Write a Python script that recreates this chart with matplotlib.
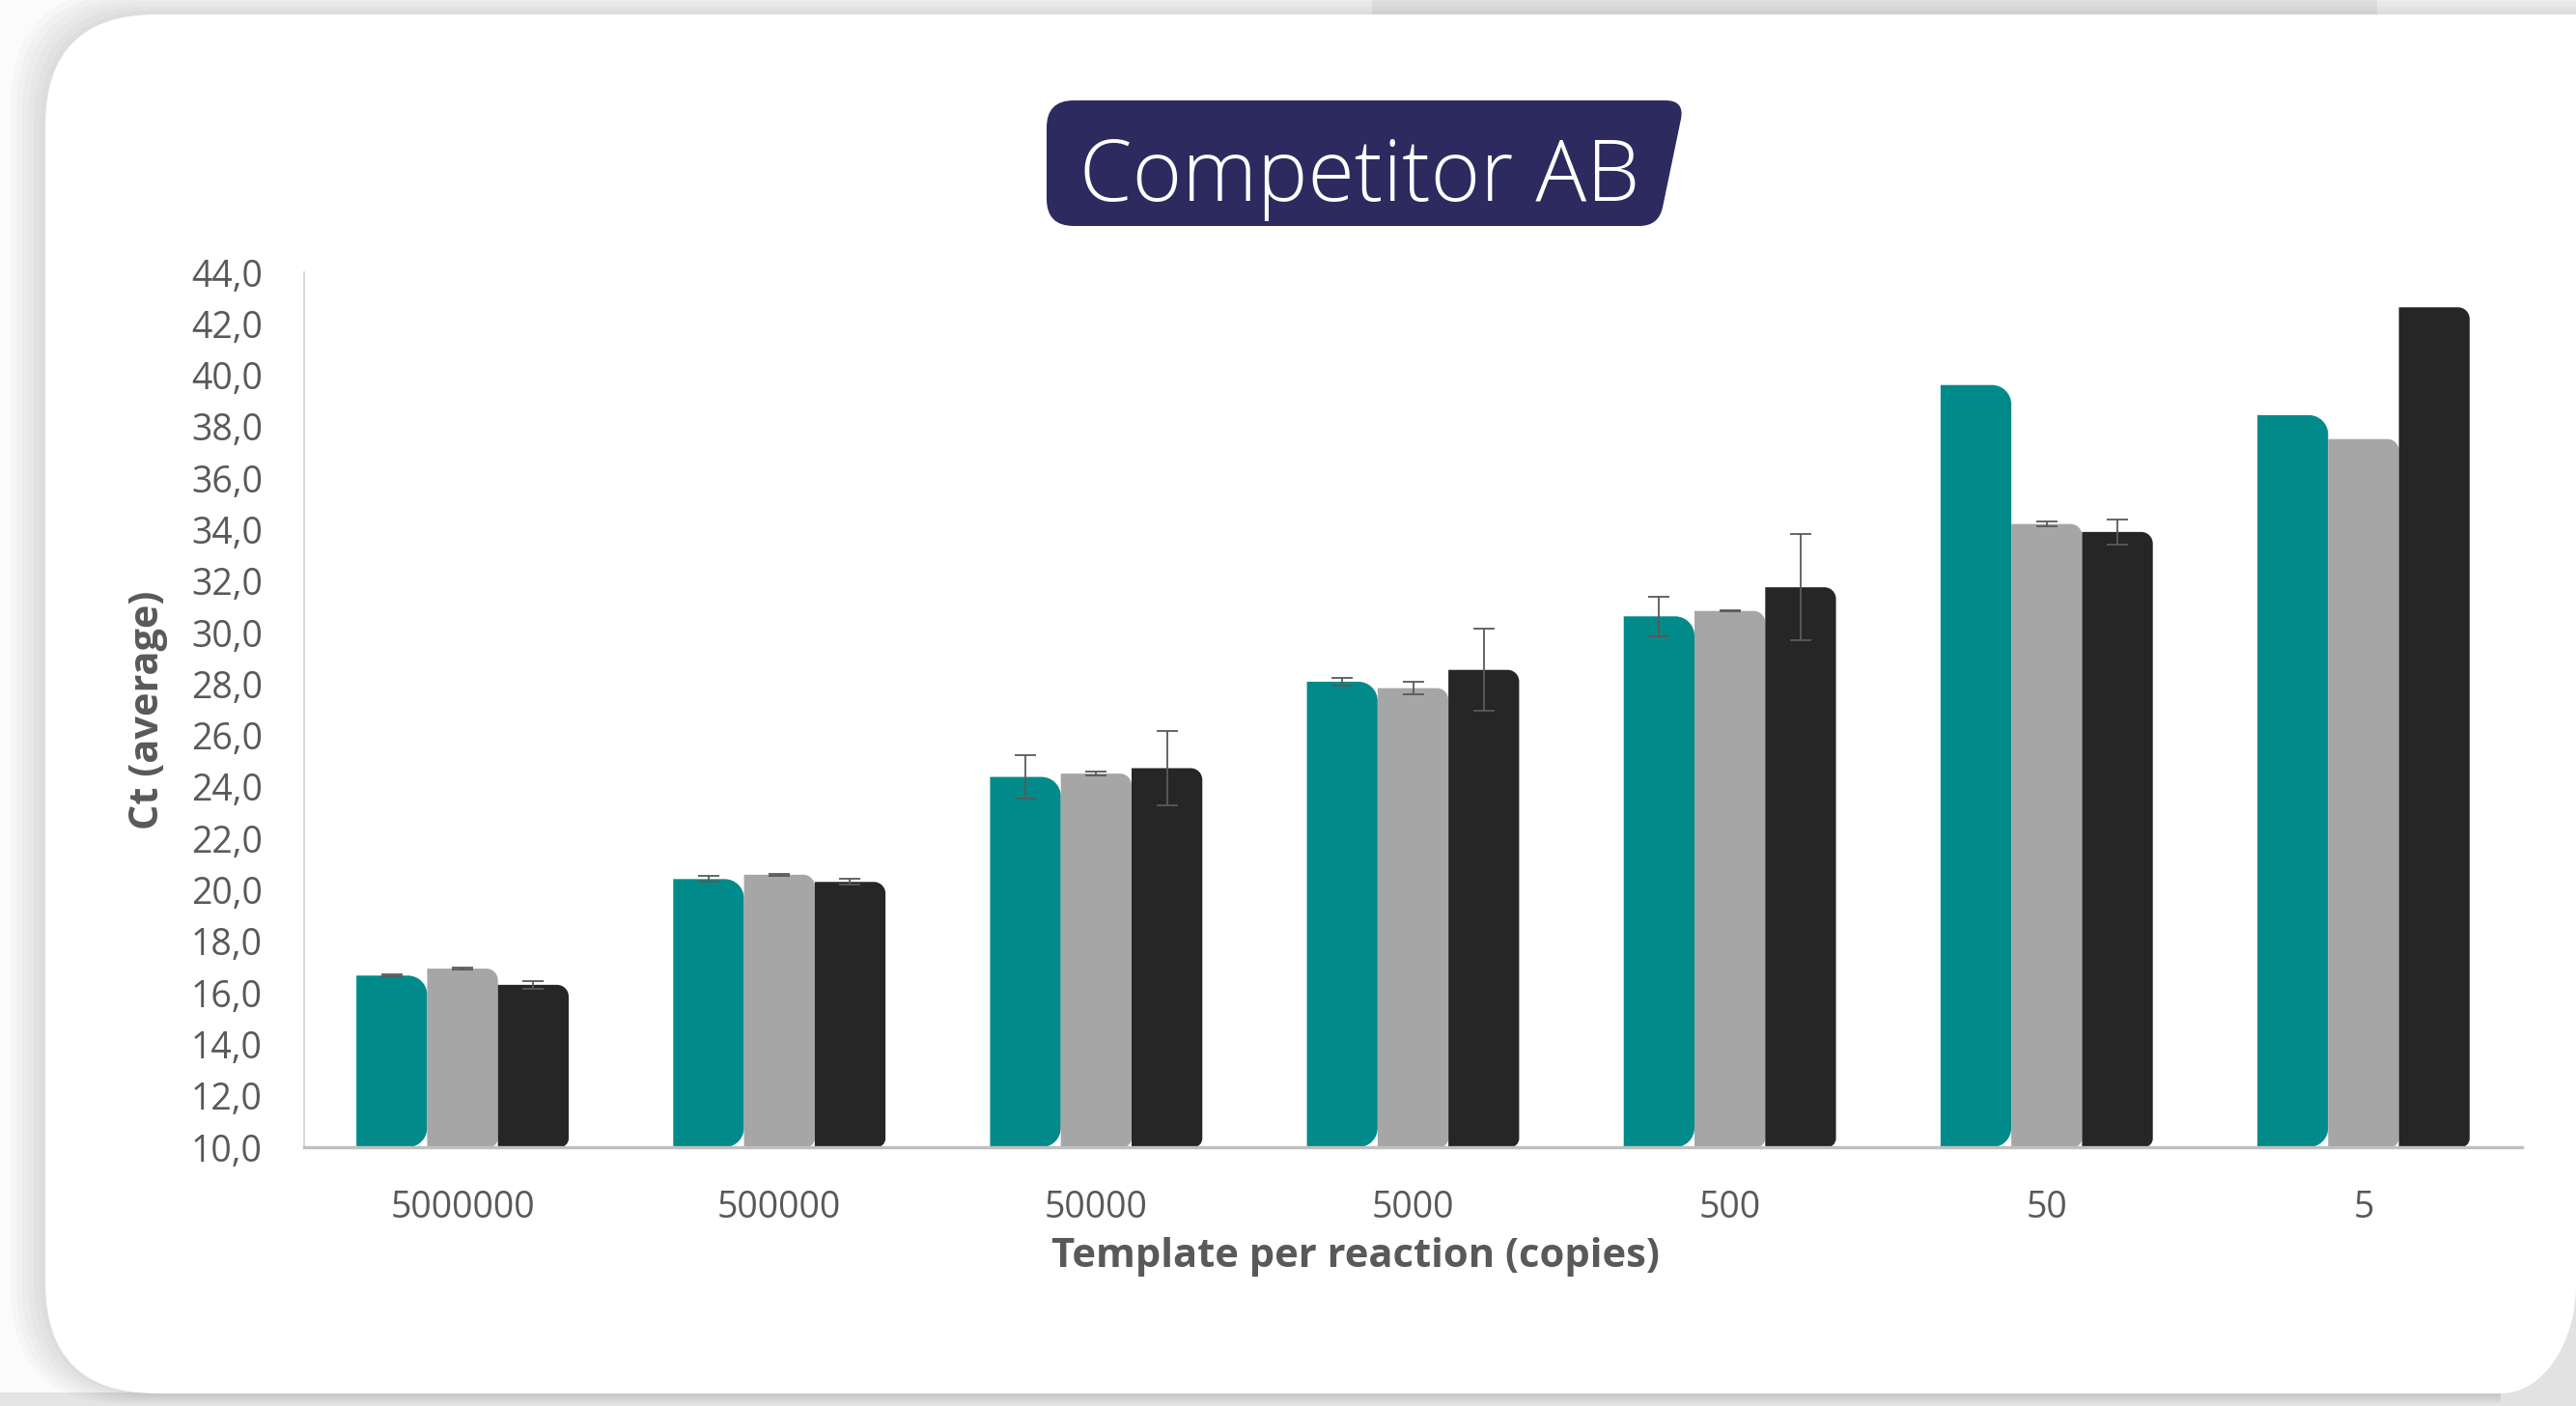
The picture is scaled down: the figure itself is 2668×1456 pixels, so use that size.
import numpy as np
import matplotlib
matplotlib.use("Agg")
import matplotlib.pyplot as plt
from matplotlib.path import Path
from matplotlib.patches import PathPatch, FancyBboxPatch, Rectangle
from matplotlib.transforms import IdentityTransform
from matplotlib import font_manager as fm

# ---------------- data ----------------
categories = ["5000000", "500000", "50000", "5000", "500", "50", "5"]
teal_vals = [16.67, 20.42, 24.39, 28.09, 30.63, 39.62, 38.45]
teal_err = [0.03, 0.11, 0.86, 0.14, 0.77, np.nan, np.nan]
grey_vals = [16.94, 20.59, 24.52, 27.84, 30.84, 34.22, 37.52]
grey_err = [0.04, 0.03, 0.07, 0.24, 0.03, 0.10, np.nan]
black_vals = [16.31, 20.31, 24.73, 28.55, 31.76, 33.91, 42.64]
black_err = [0.16, 0.12, 1.44, 1.60, 2.06, 0.48, np.nan]
y_ticks = [10, 12, 14, 16, 18, 20, 22, 24, 26, 28, 30, 32, 34, 36, 38, 40, 42, 44]
title_text = "Competitor AB"
x_label = "Template per reaction (copies)"
y_label = "Ct (average)"


def pick(names):
    for n in names:
        try:
            fm.findfont(fm.FontProperties(family=n), fallback_to_default=False)
            return n
        except Exception:
            pass
    return "DejaVu Sans"


TICK_FONT = pick(["Open Sans", "Noto Sans"])
LABEL_FONT = pick(["Liberation Sans Narrow", "Open Sans"])
TITLE_FONT = pick(["Open Sans", "Lato"])

W, H = 2668, 1456
fig = plt.figure(figsize=(W / 100, H / 100), dpi=100)
fig.patch.set_facecolor("#fbfbfb")
ident = IdentityTransform()
K = 0.5523


def py(y):  # top-origin px -> display px
    return H - y


# ---------------- background card ----------------
fig.add_artist(Rectangle((0, 0), W, 14, transform=ident, fc="#e4e4e4", ec="none", zorder=0))
fig.add_artist(Rectangle((1421, py(15)), 1041, 15, transform=ident, fc="#efefef", ec="none", zorder=0))
for i in range(6):
    g = 6 * (6 - i)
    fig.add_artist(FancyBboxPatch((47 - g, py(1443) - g * 0.3), W + 400, 1443 - 15 + g,
                                  boxstyle="round,pad=0,rounding_size=120", transform=ident,
                                  fc="black", ec="none", alpha=0.018, zorder=0.5))
fig.add_artist(FancyBboxPatch((47, py(1443)), W + 300, 1443 - 15,
                              boxstyle="round,pad=0,rounding_size=115", transform=ident,
                              fc="white", ec="none", zorder=1))
# bottom-right corner of the card
cx, cy, rx, ry = 2590, 1330, 78, 113
corner = Path([(W + 2, py(1457)), (cx, py(1457)), (cx, py(cy + ry)),
               (cx + K * rx, py(cy + ry)), (cx + rx, py(cy + K * ry)), (cx + rx, py(cy)),
               (W + 2, py(cy)), (W + 2, py(1457))],
              [Path.MOVETO, Path.LINETO, Path.LINETO, Path.CURVE4, Path.CURVE4, Path.CURVE4,
               Path.LINETO, Path.CLOSEPOLY])
fig.add_artist(PathPatch(corner, transform=ident, fc="#e2e2e2", ec="none", zorder=1.2))


# ---------------- title box ----------------
def rounded_poly(pts, radii):
    verts, codes = [], []
    n = len(pts)
    for i in range(n):
        P = np.array(pts[i], float)
        A = np.array(pts[i - 1], float)
        B = np.array(pts[(i + 1) % n], float)
        r = radii[i]
        p1 = P + r * (A - P) / np.linalg.norm(A - P)
        p2 = P + r * (B - P) / np.linalg.norm(B - P)
        verts.append(p1)
        codes.append(Path.MOVETO if i == 0 else Path.LINETO)
        verts += [P, p2]
        codes += [Path.CURVE3, Path.CURVE3]
    verts.append(verts[0])
    codes.append(Path.CLOSEPOLY)
    return Path(verts, codes)


tb = [(1084, py(104)), (1745, py(104)), (1718, py(234)), (1084, py(234))]
fig.add_artist(PathPatch(rounded_poly(tb, [28, 20, 20, 28]), transform=ident,
                         fc="#2c2a5f", ec="none", zorder=2))
title = fig.text(1408 / W, 1 - 208 / H, title_text, ha="center", va="baseline",
                 color="white", family=TITLE_FONT, fontweight="light", fontsize=60, zorder=3)

# ---------------- axes ----------------
L, R, T, B = 315, 2612, 282, 1188
ax = fig.add_axes([L / W, 1 - B / H, (R - L) / W, (B - T) / H])
ax.set_facecolor("none")
ax.set_zorder(2)
ax.set_xlim(-0.5, len(categories) - 0.5)
ax.set_ylim(10, 44)

x = np.arange(len(categories))
bw = 0.2233
offsets = [-bw, 0.0, bw]
series = [
    (teal_vals, teal_err, "#008b8a", 20, 20),
    (grey_vals, grey_err, "#a6a6a6", 12, 9),
    (black_vals, black_err, "#262626", 12, 9),
]

p0 = ax.transData.transform((0, 0))
p1 = ax.transData.transform((1, 1))
ppx, ppy = p1[0] - p0[0], p1[1] - p0[1]


def bar_path(x0, x1, y0, y1, rt, rb):
    rxt, ryt = rt / ppx, rt / ppy
    rxb, ryb = rb / ppx, rb / ppy
    ryt = min(ryt, (y1 - y0) / 2)
    v = [(x0, y0), (x1 - rxb, y0),
         (x1 - rxb + K * rxb, y0), (x1, y0 + ryb - K * ryb), (x1, y0 + ryb),
         (x1, y1 - ryt),
         (x1, y1 - ryt + K * ryt), (x1 - rxt + K * rxt, y1), (x1 - rxt, y1),
         (x0, y1), (x0, y0)]
    c = [Path.MOVETO, Path.LINETO, Path.CURVE4, Path.CURVE4, Path.CURVE4, Path.LINETO,
         Path.CURVE4, Path.CURVE4, Path.CURVE4, Path.LINETO, Path.CLOSEPOLY]
    return Path(v, c)


ybase = ax.get_ylim()[0]
for k, (vals, errs, color, rt, rb) in enumerate(series):
    vals = np.array(vals, float)
    bars = ax.bar(x + offsets[k], vals - ybase, bottom=ybase, width=bw, color=color)
    for rect in bars:
        rect.set_visible(False)
        x0, y0 = rect.get_x(), rect.get_y()
        ax.add_patch(PathPatch(bar_path(x0, x0 + rect.get_width(), y0, y0 + rect.get_height(), rt, rb),
                               fc=color, ec="none", zorder=2))
    errs = np.array(errs, float)
    m = np.isfinite(errs)
    ax.errorbar((x + offsets[k])[m], vals[m], yerr=errs[m], fmt="none", ecolor="#595959",
                elinewidth=1.3, capsize=8, capthick=1.3, zorder=5)

ax.set_yticks(y_ticks)
ax.set_yticklabels([f"{v:.1f}".replace(".", ",") for v in y_ticks])
ax.set_xticks(x)
ax.set_xticklabels(categories)
ax.tick_params(axis="both", length=0, colors="#595959", labelsize=27)
ax.tick_params(axis="y", pad=31)
ax.tick_params(axis="x", pad=32)
for lab in ax.get_xticklabels() + ax.get_yticklabels():
    lab.set_family(TICK_FONT)
for s in ["top", "right"]:
    ax.spines[s].set_visible(False)
ax.spines["left"].set_color("#d9d9d9")
ax.spines["left"].set_linewidth(1.5)
ax.spines["bottom"].set_color("#bfbfbf")
ax.spines["bottom"].set_linewidth(2.4)

xl = fig.text(825 * 1.7015 / W, 1 - 1302 / H, x_label, ha="center", va="center",
              color="#595959", family=LABEL_FONT, fontweight="bold", fontsize=30)
yl = fig.text(153 / W, 1 - 735 / H, y_label, ha="center", va="center", rotation=90,
              color="#595959", family=LABEL_FONT, fontweight="bold", fontsize=30)

renderer = fig.canvas.get_renderer()


def fit(t, w=None, h=None):
    bb = t.get_window_extent(renderer)
    s = t.get_fontsize()
    if w is not None:
        t.set_fontsize(s * w / bb.width)
    else:
        t.set_fontsize(s * h / bb.height)


fit(title, w=580)
fit(xl, w=631)
fit(yl, h=247)

fig.savefig("out.png", dpi=100, facecolor=fig.get_facecolor())
